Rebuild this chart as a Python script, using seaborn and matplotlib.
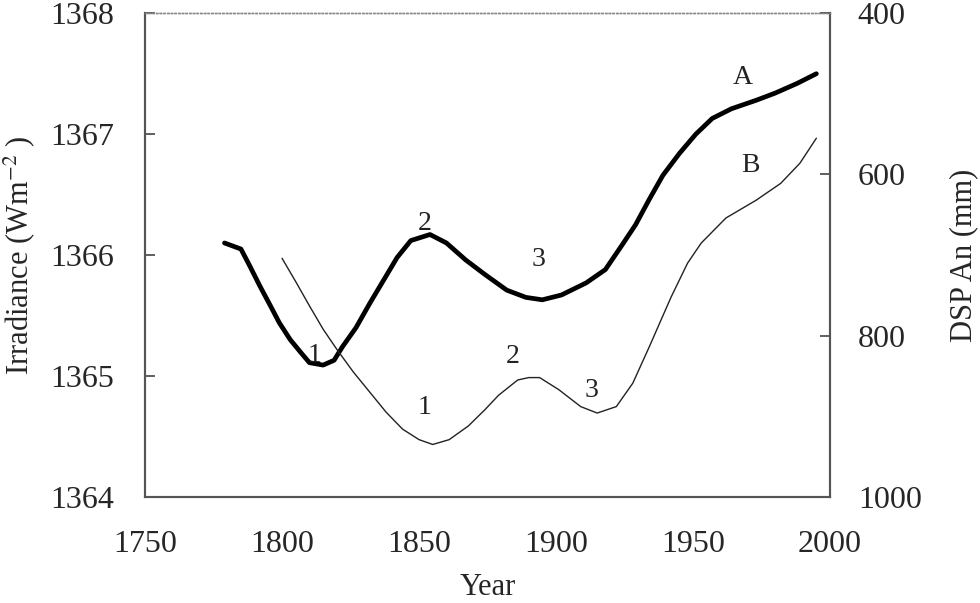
import seaborn as sns
import matplotlib.pyplot as plt
import pandas as pd

# curve A: irradiance (left axis)
years_a = [1779, 1785, 1788, 1792, 1796, 1799, 1803, 1807, 1810, 1815, 1819, 1822, 1827,
           1832, 1837, 1842, 1847, 1854, 1860, 1867, 1874, 1882, 1889, 1895, 1902, 1911,
           1918, 1924, 1929, 1934, 1939, 1945, 1951, 1957, 1964, 1973, 1980, 1988, 1995]
irradiance = [1366.10, 1366.05, 1365.92, 1365.74, 1365.57, 1365.44, 1365.30, 1365.19, 1365.11,
              1365.09, 1365.13, 1365.24, 1365.40, 1365.60, 1365.79, 1365.98, 1366.12, 1366.17,
              1366.10, 1365.96, 1365.84, 1365.71, 1365.65, 1365.63, 1365.67, 1365.77, 1365.88,
              1366.08, 1366.25, 1366.46, 1366.66, 1366.84, 1367.00, 1367.13, 1367.21, 1367.28,
              1367.34, 1367.42, 1367.50]

# curve B: DSP An (right axis)
years_b = [1800, 1805, 1810, 1815, 1820, 1826, 1832, 1838, 1844, 1850, 1855, 1861, 1868,
           1874, 1879, 1886, 1890, 1894, 1901, 1909, 1915, 1922, 1928, 1934, 1942, 1948,
           1953, 1962, 1973, 1982, 1989, 1995]
dsp = [704, 733, 763, 792, 817, 845, 870, 895, 916, 929, 935, 929, 912,
       892, 874, 855, 852, 852, 867, 888, 896, 888, 859, 814, 752, 710,
       685, 654, 632, 611, 586, 555]

df_a = pd.DataFrame({"year": years_a, "irr": irradiance})
df_b = pd.DataFrame({"year": years_b, "dsp": dsp})

sns.set_theme(style="white")
plt.rcParams['font.family'] = ['Liberation Serif', 'DejaVu Serif']
plt.rcParams['mathtext.fontset'] = 'stix'

fig = plt.figure(figsize=(9.8, 6.03), dpi=100)
ax = fig.add_axes([0.148, 0.176, 0.699, 0.802])
ax2 = ax.twinx()

sns.lineplot(data=df_a, x="year", y="irr", ax=ax, color="black", linewidth=3.4,
             solid_joinstyle="round", solid_capstyle="round")
sns.lineplot(data=df_b, x="year", y="dsp", ax=ax2, color="#222222", linewidth=1.0,
             solid_joinstyle="round")

ax.set_xlim(1750, 2000)
ax.set_ylim(1364, 1368)
ax2.set_ylim(1000, 400)
ax.set_xticks([1750, 1800, 1850, 1900, 1950, 2000])
ax.set_yticks([1364, 1365, 1366, 1367, 1368])
ax2.set_yticks([400, 600, 800, 1000])

ax.set_xlabel("Year", fontsize=22, labelpad=10)
ax.set_ylabel("Irradiance (Wm$^{-2}$ )", fontsize=22, labelpad=10)
ax2.set_ylabel("DSP An (mm)", fontsize=22, labelpad=20)

for a in (ax, ax2):
    a.tick_params(direction="in", length=7, width=1.2, labelsize=23, color="#444444")
    for s in ("left", "right", "bottom"):
        a.spines[s].set_color("#555555")
        a.spines[s].set_linewidth(1.5)
    a.spines["top"].set_color("#888888")
    a.spines["top"].set_linestyle(":")
    a.spines["top"].set_linewidth(1.0)
ax.tick_params(axis="x", pad=24)
ax.tick_params(axis="y", right=False, pad=22)
ax2.tick_params(axis="y", left=False, pad=20)

labels = [("A", 1968, 1367.47), ("B", 1971, 1366.74),
          ("1", 1812, 1365.17), ("2", 1852, 1366.26), ("3", 1893.5, 1365.96),
          ("1", 1852, 1364.74), ("2", 1884, 1365.16), ("3", 1913, 1364.88)]
for t, x, y in labels:
    ax.text(x, y, t, fontsize=20, ha="center", va="center", color="#222222")

fig.savefig("out.png", dpi=100)
